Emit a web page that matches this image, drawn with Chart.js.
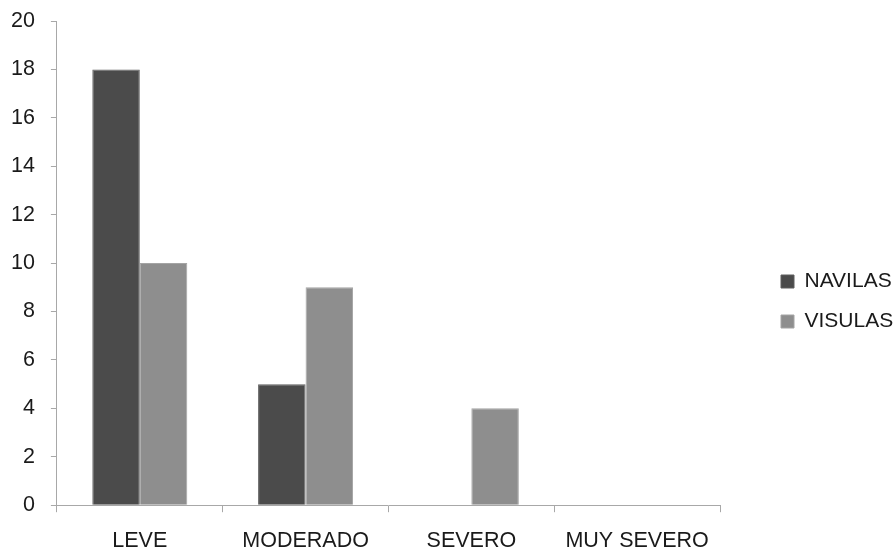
<!DOCTYPE html>
<html>
<head>
<meta charset="utf-8">
<script src="https://cdn.jsdelivr.net/npm/chart.js@4/dist/chart.umd.min.js"></script>
<style>
html,body{margin:0;padding:0;background:#fff;}
#wrap{width:894px;height:554px;position:relative;}
</style>
</head>
<body>
<div id="wrap"><canvas id="c" width="894" height="554"></canvas></div>
<script>
const categories = ['LEVE', 'MODERADO', 'SEVERO', 'MUY SEVERO'];
const navilas = [18, 5, 0, 0];
const visulas = [10, 9, 4, 0];
const seriesNames = ['NAVILAS', 'VISULAS'];
const yMin = 0, yMax = 20, yStep = 2;

const LEGEND_W = 174, LEGEND_DX = 42, LEGEND_DY = 6;

const legendShift = {
  id: 'legendShift',
  afterInit(chart) {
    const lg = chart.legend;
    if (!lg) return;
    const fit = lg.fit;
    lg.fit = function () { fit.apply(this, arguments); if (!this.isHorizontal()) this.width = LEGEND_W; };
    const draw = lg.draw;
    lg.draw = function () {
      const ctx = this.ctx; ctx.save(); ctx.translate(LEGEND_DX, LEGEND_DY);
      draw.apply(this, arguments); ctx.restore();
    };
  }
};

const family = '"Liberation Sans", Arial, Helvetica, sans-serif';
const font = { family: family, size: 21.5 };
const legendFont = { family: family, size: 21 };
const axisColor = '#a8a8a8';

new Chart(document.getElementById('c'), {
  type: 'bar',
  data: {
    labels: categories,
    datasets: [
      { label: seriesNames[0], data: navilas, backgroundColor: '#4b4b4b', borderColor: '#5e5e5e', borderWidth: 1,
        barPercentage: 1, categoryPercentage: 0.573 },
      { label: seriesNames[1], data: visulas, backgroundColor: '#8e8e8e', borderColor: '#a4a4a4', borderWidth: 1,
        barPercentage: 1, categoryPercentage: 0.573 }
    ]
  },
  options: {
    responsive: false,
    animation: false,
    devicePixelRatio: 1,
    layout: { padding: { left: -5, top: 21, right: 0, bottom: -16 } },
    plugins: {
      tooltip: { enabled: false },
      legend: {
        position: 'right',
        labels: { font: legendFont, color: '#1a1a1a', boxWidth: 13, boxHeight: 13, padding: 19 }
      }
    },
    scales: {
      x: {
        grid: { display: true, drawOnChartArea: false, drawTicks: true, tickLength: 7, color: axisColor, offset: true },
        border: { display: true, color: axisColor, width: 1 },
        ticks: { font: font, color: '#1a1a1a', padding: 16, maxRotation: 0, autoSkip: false }
      },
      y: {
        min: yMin, max: yMax,
        afterFit(scale) { scale.paddingTop = 0; },
        grid: { display: true, drawOnChartArea: false, drawTicks: true, tickLength: 6, color: axisColor },
        border: { display: true, color: axisColor, width: 1 },
        ticks: { font: font, color: '#1a1a1a', stepSize: yStep, padding: 16 }
      }
    }
  },
  plugins: [legendShift]
});
</script>
</body>
</html>
